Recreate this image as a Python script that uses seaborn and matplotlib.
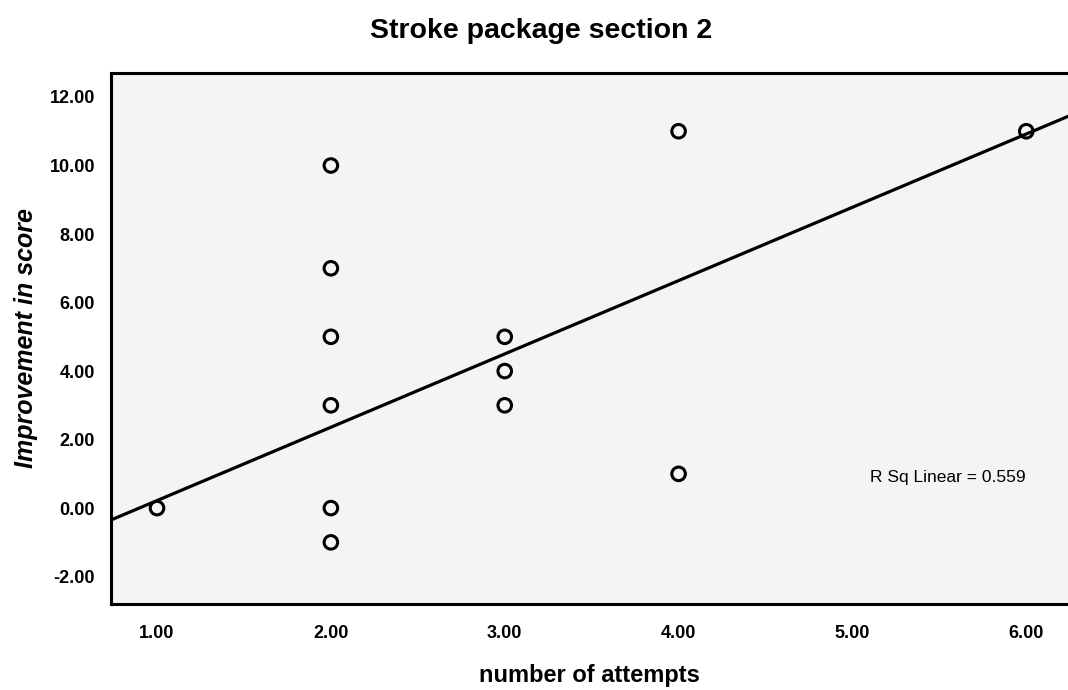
import matplotlib
matplotlib.use("Agg")
import matplotlib.pyplot as plt
import numpy as np
import pandas as pd
import seaborn as sns

# Observations: number of attempts vs improvement in score
attempts = [1, 2, 2, 2, 2, 2, 2, 3, 3, 3, 4, 4, 6]
improvement = [0, 10, 7, 5, 3, 0, -1, 5, 4, 3, 11, 1, 11]

# Linear fit shown on the chart
fit_intercept = -1.92
fit_slope = 2.14
r_squared = 0.559

x_ticks = [1, 2, 3, 4, 5, 6]
y_ticks = [-2, 0, 2, 4, 6, 8, 10, 12]
x_limits = (0.735, 6.24)
y_limits = (-2.8, 12.7)

sns.set_theme(style="white")
plt.rcParams["font.family"] = ["Liberation Sans", "DejaVu Sans"]

fig = plt.figure(figsize=(10.68, 6.90), dpi=100)
ax = fig.add_axes([0.1039, 0.1246, 0.8961, 0.7696])
ax.set_facecolor("#f4f4f4")

df = pd.DataFrame({"attempts": attempts, "improvement": improvement})

fit_x = np.array(x_limits)
fit_df = pd.DataFrame({"x": fit_x, "y": fit_intercept + fit_slope * fit_x})
sns.lineplot(data=fit_df, x="x", y="y", ax=ax, color="black", linewidth=2.3,
             zorder=2)

sns.scatterplot(data=df, x="attempts", y="improvement", ax=ax, marker="o",
                s=95, facecolor="none", edgecolor="black", linewidth=2.2,
                zorder=3)

ax.set_xlim(*x_limits)
ax.set_ylim(*y_limits)
ax.set_xticks(x_ticks)
ax.set_yticks(y_ticks)
ax.set_xticklabels([f"{v:.2f}" for v in x_ticks], fontweight="bold")
ax.set_yticklabels([f"{v:.2f}" for v in y_ticks], fontweight="bold")
ax.tick_params(axis="both", direction="out", length=10, width=2.2,
               color="black", labelsize=13, labelcolor="black")
ax.tick_params(axis="y", pad=1.5)
ax.tick_params(axis="x", pad=5)

for side in ("left", "bottom", "top"):
    ax.spines[side].set_visible(True)
    ax.spines[side].set_color("black")
    ax.spines[side].set_linewidth(2.2)
ax.spines["right"].set_visible(False)

ax.set_xlabel("number of attempts", fontsize=17, fontweight="bold",
              color="black", labelpad=16)
ax.set_ylabel("Improvement in score", fontsize=18, fontweight="bold",
              fontstyle="italic", color="black", labelpad=8)

fig.text(0.507, 0.945, "Stroke package section 2", ha="center",
         va="baseline", fontsize=20.5, fontweight="bold", color="black")

ax.text(5.10, 0.9, f"R Sq Linear = {r_squared:.3f}", ha="left", va="center",
        fontsize=12.5, color="black")

fig.savefig("out.png", dpi=100)
